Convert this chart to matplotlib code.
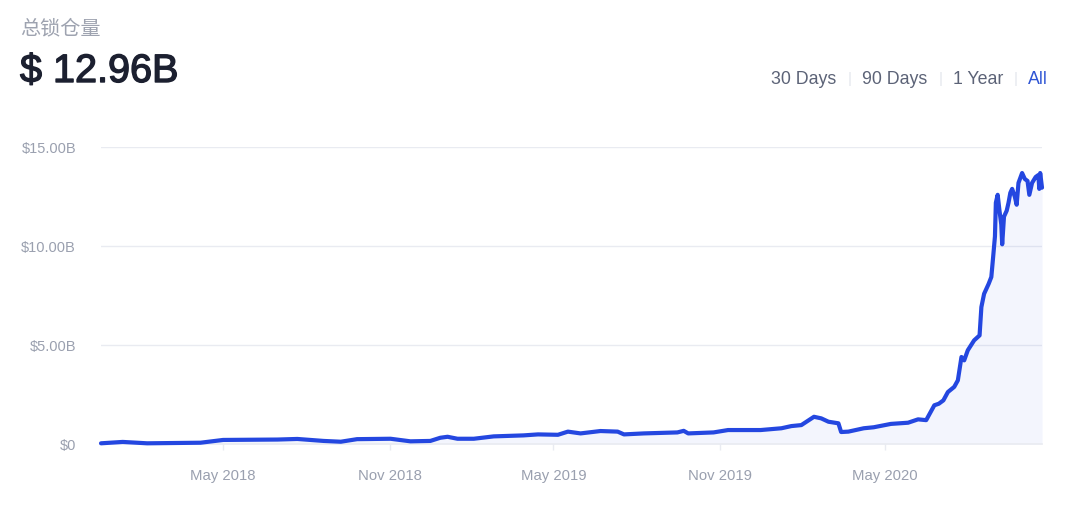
import matplotlib
matplotlib.use("Agg")
import matplotlib.pyplot as plt
import matplotlib.dates as mdates
import matplotlib.patheffects as pe
import numpy as np
import pandas as pd

# total value locked, billions USD
DATES = [
    "2017-12-17", "2018-01-10", "2018-02-06", "2018-04-06", "2018-05-01",
    "2018-06-30", "2018-07-22", "2018-08-20", "2018-09-08", "2018-09-26",
    "2018-11-02", "2018-11-24", "2018-12-16", "2018-12-27", "2019-01-04",
    "2019-01-15", "2019-02-02", "2019-02-24", "2019-03-29", "2019-04-14",
    "2019-05-06", "2019-05-17", "2019-05-31", "2019-06-22", "2019-07-11",
    "2019-07-18", "2019-08-09", "2019-09-15", "2019-09-22", "2019-09-27",
    "2019-10-25", "2019-11-10", "2019-12-16", "2020-01-08", "2020-01-19",
    "2020-01-30", "2020-02-13", "2020-02-21", "2020-02-29", "2020-03-11",
    "2020-03-14", "2020-03-22", "2020-04-08", "2020-04-19", "2020-05-08",
    "2020-05-27", "2020-06-07", "2020-06-16", "2020-06-25", "2020-06-30",
    "2020-07-05", "2020-07-10", "2020-07-17", "2020-07-21", "2020-07-25",
    "2020-07-28", "2020-08-01", "2020-08-08", "2020-08-14", "2020-08-16",
    "2020-08-19", "2020-08-24", "2020-08-27", "2020-08-29", "2020-08-31",
    "2020-09-01", "2020-09-03", "2020-09-05", "2020-09-07", "2020-09-08",
    "2020-09-10", "2020-09-13", "2020-09-15", "2020-09-17", "2020-09-19",
    "2020-09-22", "2020-09-24", "2020-09-26", "2020-09-30", "2020-10-03",
    "2020-10-06", "2020-10-08", "2020-10-11", "2020-10-15", "2020-10-18",
    "2020-10-19", "2020-10-20", "2020-10-22",
]
TVL = [
    0.05, 0.12, 0.05, 0.08, 0.22,
    0.24, 0.27, 0.17, 0.13, 0.26,
    0.28, 0.15, 0.17, 0.33, 0.38,
    0.28, 0.28, 0.40, 0.45, 0.50,
    0.48, 0.64, 0.55, 0.67, 0.64,
    0.50, 0.55, 0.60, 0.68, 0.55,
    0.60, 0.72, 0.72, 0.81, 0.92,
    0.97, 1.39, 1.31, 1.14, 1.06,
    0.62, 0.64, 0.81, 0.86, 1.03,
    1.09, 1.26, 1.22, 1.97, 2.05,
    2.22, 2.64, 2.90, 3.23, 4.41,
    4.24, 4.75, 5.25, 5.50, 6.93,
    7.60, 8.10, 8.45, 9.46, 10.5,
    12.2, 12.6, 11.8, 11.1, 10.1,
    11.5, 11.8, 12.2, 12.7, 12.9,
    12.5, 12.1, 13.2, 13.7, 13.4,
    13.3, 12.6, 13.2, 13.5, 13.6,
    12.9, 13.7, 12.96,
]
Y_TICKS = [0, 5, 10, 15]
Y_LABELS = ["$0", "$5.00B", "$10.00B", "$15.00B"]
RANGE_BUTTONS = ["30 Days", "90 Days", "1 Year", "All"]

LINE = "#2447E0"
GRID = "#E9EBF1"
MUTED = "#9AA0AF"
DARK = "#1C2030"

plt.rcParams["font.family"] = ["Liberation Sans", "DejaVu Sans"]

dates = pd.to_datetime(DATES)

fig = plt.figure(figsize=(10.8, 5.25), dpi=100)
fig.patch.set_facecolor("white")
ax = fig.add_axes([101 / 1080, 80.7 / 525, 941 / 1080, 297 / 525])

ax.fill_between(dates, TVL, 0, color=LINE, alpha=0.05, linewidth=0)
ax.plot(dates, TVL, color=LINE, linewidth=3.0, solid_joinstyle="round",
        solid_capstyle="round", clip_on=False, zorder=3)

ax.set_xlim(pd.Timestamp("2017-12-17"), pd.Timestamp("2020-10-22"))
ax.set_ylim(0, 15)

ax.set_yticks(Y_TICKS)
ax.set_yticklabels(Y_LABELS)
ax.tick_params(axis="y", length=0, pad=18, labelsize=10.5, labelcolor=MUTED)

ax.xaxis.set_major_locator(mdates.MonthLocator(bymonth=[5, 11]))
ax.xaxis.set_major_formatter(mdates.DateFormatter("%b %Y"))
ax.tick_params(axis="x", length=4, width=1, color=GRID, pad=14,
               labelsize=10.7, labelcolor=MUTED)

ax.yaxis.grid(True, color=GRID, linewidth=1)
ax.set_axisbelow(True)
for side in ["top", "right", "left"]:
    ax.spines[side].set_visible(False)
ax.spines["bottom"].set_color(GRID)
ax.spines["bottom"].set_linewidth(1.2)

# header
fig.text(20 / 1080, 1 - 29 / 525, "总锁仓量", fontsize=14.5, color="#9EA3B0",
         va="center", ha="left", family=["Noto Sans CJK SC", "DejaVu Sans"])
fig.text(20 / 1080, 1 - 71 / 525, "$ 12.96B", fontsize=28.5, color=DARK,
         va="center", ha="left",
         path_effects=[pe.withStroke(linewidth=1.0, foreground=DARK)])

btn_x = [771, 862, 953, 1028]
sep_x = [850, 941, 1016]
for x, label in zip(btn_x, RANGE_BUTTONS):
    fig.text(x / 1080, 1 - 79.5 / 525, label, fontsize=12.8, va="center", ha="left",
             color="#2F55D4" if label == "All" else "#5C6377")
for x in sep_x:
    fig.text(x / 1080, 1 - 79.5 / 525, "|", fontsize=11, va="center", ha="center",
             color="#E3E6EC")

fig.savefig("out.png", dpi=100)
